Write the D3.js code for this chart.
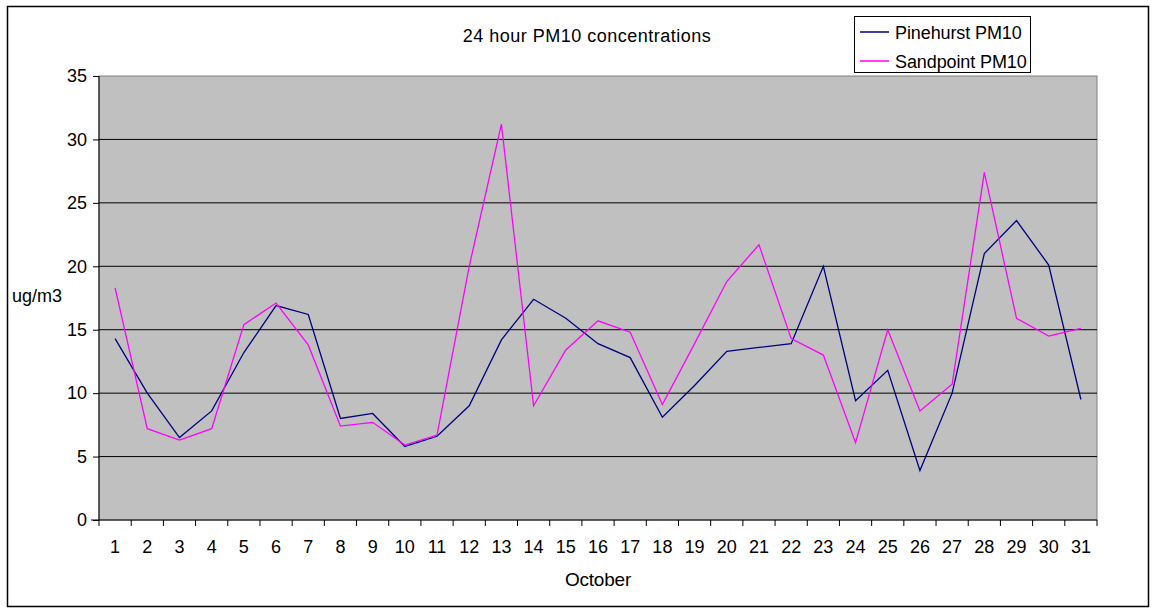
<!DOCTYPE html>
<meta charset="utf-8">
<style>
    body { margin: 0; background: #fff; }
    text { font-family: "Liberation Sans", Arial, sans-serif; fill: #000; }
    .axis path, .axis line { stroke: #000; }
</style>

<svg width="1156" height="614"></svg>

<script src="https://d3js.org/d3.v7.min.js"></script>
<script>
// October days and daily 24h PM10 (ug/m3)
var days = d3.range(1, 32).map(String);
var pinehurst = [14.3, 10.0, 6.5, 8.6, 13.2, 16.9, 16.2, 8.0, 8.4, 5.8,
                 6.6, 9.0, 14.2, 17.4, 15.9, 13.9, 12.8, 8.1, 10.6, 13.3,
                 13.6, 13.9, 20.0, 9.4, 11.8, 3.9, 10.0, 21.0, 23.6, 20.1, 9.5];
var sandpoint = [18.3, 7.2, 6.3, 7.2, 15.4, 17.1, 13.8, 7.4, 7.7, 5.9,
                 6.7, 20.0, 31.2, 9.0, 13.4, 15.7, 14.8, 9.1, 13.9, 18.8,
                 21.7, 14.3, 13.0, 6.1, 15.0, 8.6, 10.7, 27.4, 15.9, 14.5, 15.1];
var yTicks = [0, 5, 10, 15, 20, 25, 30, 35];

var series = [
    { name: "Pinehurst PM10", values: pinehurst, color: "#000080" },
    { name: "Sandpoint PM10", values: sandpoint, color: "#ff00ff" }
];

var svg = d3.select("svg");
var plotL = 99, plotR = 1097, plotT = 76, plotB = 520;

var x = d3.scaleBand().domain(days).range([plotL, plotR]);
var y = d3.scaleLinear().domain([0, 35]).range([plotB, plotT]);

// outer chart border
svg.append("rect")
    .attr("x", 7.5).attr("y", 6.5)
    .attr("width", 1141).attr("height", 600)
    .attr("fill", "none").attr("stroke", "#000").attr("stroke-width", 1.5);

// plot area
svg.append("rect")
    .attr("x", plotL).attr("y", plotT)
    .attr("width", plotR - plotL).attr("height", plotB - plotT)
    .attr("fill", "#c0c0c0").attr("stroke", "#808080");

// gridlines
svg.append("g")
    .selectAll("line")
    .data(yTicks.slice(1, -1))
    .enter()
    .append("line")
    .attr("x1", plotL).attr("x2", plotR)
    .attr("y1", function(d) { return y(d); })
    .attr("y2", function(d) { return y(d); })
    .attr("stroke", "#000");

// y axis
svg.append("g")
    .attr("class", "axis")
    .attr("transform", "translate(" + plotL + ",0)")
    .call(d3.axisLeft(y).tickValues(yTicks).tickSize(6).tickPadding(6))
    .call(function(g) { g.select(".domain").attr("d", "M0," + plotT + "V" + plotB); })
    .selectAll("text")
    .style("font-size", "18px");

// x axis: labels at band centres, ticks at band edges
var xg = svg.append("g")
    .attr("class", "axis")
    .attr("transform", "translate(0," + plotB + ")")
    .call(d3.axisBottom(x).tickSize(0).tickPadding(20));
xg.select(".domain").attr("d", "M" + (plotL - 8) + ",0H" + plotR);
xg.selectAll("text").style("font-size", "18px");

xg.selectAll(".edge")
    .data(d3.range(days.length + 1))
    .enter()
    .append("line")
    .attr("x1", function(i) { return plotL + i * x.step(); })
    .attr("x2", function(i) { return plotL + i * x.step(); })
    .attr("y1", 0).attr("y2", 6)
    .attr("stroke", "#000");

// lines
var line = d3.line()
    .x(function(d, i) { return x(days[i]) + x.bandwidth() / 2; })
    .y(function(d) { return y(d); });

svg.append("g")
    .selectAll("path")
    .data(series)
    .enter()
    .append("path")
    .attr("d", function(s) { return line(s.values); })
    .attr("fill", "none")
    .attr("stroke", function(s) { return s.color; })
    .attr("stroke-width", 1.3);

// titles
svg.append("text")
    .attr("x", 587).attr("y", 42)
    .attr("text-anchor", "middle")
    .style("font-size", "18px").style("letter-spacing", "0.5px")
    .text("24 hour PM10 concentrations");

svg.append("text")
    .attr("x", 37).attr("y", 302)
    .attr("text-anchor", "middle")
    .style("font-size", "18px")
    .text("ug/m3");

svg.append("text")
    .attr("x", 598).attr("y", 586)
    .attr("text-anchor", "middle")
    .style("font-size", "19px").style("letter-spacing", "-0.2px")
    .text("October");

// legend
var legend = svg.append("g");
legend.append("rect")
    .attr("x", 854.5).attr("y", 16.5)
    .attr("width", 176).attr("height", 56)
    .attr("fill", "#fff").attr("stroke", "#000");

var item = legend.selectAll(".item")
    .data(series)
    .enter()
    .append("g")
    .attr("transform", function(d, i) { return "translate(0," + (32 + i * 29) + ")"; });

item.append("line")
    .attr("x1", 860).attr("x2", 889)
    .attr("stroke", function(d) { return d.color; })
    .attr("stroke-width", 1.5);

item.append("text")
    .attr("x", 895).attr("y", 7)
    .style("font-size", "18px").style("letter-spacing", "-0.1px")
    .text(function(d) { return d.name; });
</script>
